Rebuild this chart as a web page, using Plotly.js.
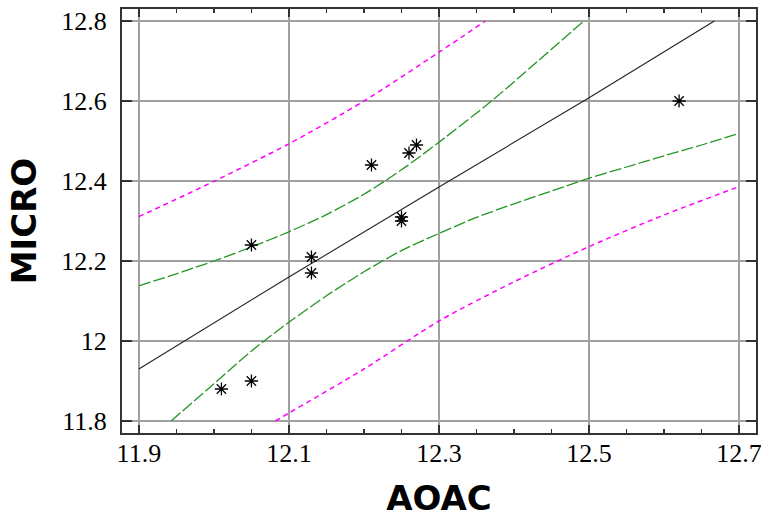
<!DOCTYPE html>
<html>
<head>
<meta charset="utf-8">
<script src="https://cdn.plot.ly/plotly-3.0.1.min.js"></script>
<style>
html,body{margin:0;padding:0;background:#fff;}
#chart{width:761px;height:518px;}
</style>
</head>
<body>
<div id="chart"></div>
<script>
// Observed points
const aoac  = [12.01, 12.05, 12.05, 12.13, 12.13, 12.21, 12.25, 12.25, 12.26, 12.27, 12.62];
const micro = [11.88, 11.90, 12.24, 12.21, 12.17, 12.44, 12.31, 12.30, 12.47, 12.49, 12.60];

// Fitted line
const fitX = [11.9, 12.1, 12.3, 12.5, 12.667];
const fitY = [11.93, 12.16, 12.385, 12.608, 12.8];

// Confidence limits (green)
const confUpX = [11.9, 11.95, 12.0, 12.05, 12.1, 12.15, 12.2, 12.25, 12.3, 12.37, 12.43, 12.493];
const confUpY = [12.138, 12.168, 12.20, 12.235, 12.273, 12.316, 12.367, 12.428, 12.497, 12.60, 12.697, 12.80];
const confLoX = [11.943, 12.0, 12.05, 12.1, 12.15, 12.2, 12.25, 12.3, 12.35, 12.4, 12.45, 12.5, 12.55, 12.6, 12.65, 12.7];
const confLoY = [11.80, 11.893, 11.975, 12.047, 12.113, 12.173, 12.226, 12.269, 12.309, 12.343, 12.375, 12.407, 12.435, 12.463, 12.49, 12.519];

// Prediction limits (magenta)
const predUpX = [11.9, 12.0, 12.1, 12.2, 12.3, 12.362];
const predUpY = [12.311, 12.399, 12.493, 12.60, 12.722, 12.80];
const predLoX = [12.082, 12.1, 12.2, 12.3, 12.4, 12.5, 12.6, 12.7];
const predLoY = [11.80, 11.82, 11.93, 12.05, 12.148, 12.236, 12.315, 12.386];

// Axis ticks
const xTicks = [11.9, 12.1, 12.3, 12.5, 12.7];
const xTickText = ['11.9', '12.1', '12.3', '12.5', '12.7'];
const yTicks = [11.8, 12.0, 12.2, 12.4, 12.6, 12.8];
const yTickText = ['11.8', '12', '12.2', '12.4', '12.6', '12.8'];

const green = 'rgb(34,150,34)';
const magenta = '#ff00ff';

const traces = [
  {x: predUpX, y: predUpY, mode: 'lines', line: {color: magenta, width: 1.5, dash: '5px,4px', shape: 'spline', smoothing: 0.8}, showlegend: false, hoverinfo: 'skip'},
  {x: predLoX, y: predLoY, mode: 'lines', line: {color: magenta, width: 1.5, dash: '5px,4px', shape: 'spline', smoothing: 0.8}, showlegend: false, hoverinfo: 'skip'},
  {x: confUpX, y: confUpY, mode: 'lines', line: {color: green, width: 1.3, dash: '12px,3px', shape: 'spline', smoothing: 0.8}, showlegend: false, hoverinfo: 'skip'},
  {x: confLoX, y: confLoY, mode: 'lines', line: {color: green, width: 1.3, dash: '12px,3px', shape: 'spline', smoothing: 0.8}, showlegend: false, hoverinfo: 'skip'},
  {x: fitX, y: fitY, mode: 'lines', line: {color: '#222', width: 1.1}, showlegend: false},
  {x: aoac, y: micro, mode: 'markers', marker: {symbol: 'asterisk-open', size: 11, color: '#000', line: {color: '#000', width: 1.3}}, showlegend: false}
];

const tickFont = {family: '"Liberation Serif", "Times New Roman", serif', size: 26, color: '#000'};
const titleFont = {family: '"DejaVu Sans", Arial, sans-serif', size: 34, color: '#000', weight: 'bold'};

const layout = {
  width: 761, height: 518,
  margin: {l: 122, r: 5, t: 9, b: 85},
  paper_bgcolor: '#fff', plot_bgcolor: '#fff',
  xaxis: {
    range: [11.8775, 12.7225],
    tickvals: xTicks, ticktext: xTickText,
    ticks: 'inside', ticklen: 8, tickwidth: 1.5, tickcolor: '#333',
    showline: true, linecolor: '#333', linewidth: 2, mirror: 'allticks',
    showgrid: true, gridcolor: '#a0a0a0', gridwidth: 1.5,
    zeroline: false,
    minor: {dtick: 0.05, tick0: 11.9, ticks: 'inside', ticklen: 4, tickwidth: 1.2, tickcolor: '#333', showgrid: false},
    tickfont: tickFont, ticklabelstandoff: -4, ticklabeloverflow: 'allow',
    title: {text: 'AOAC', font: titleFont, standoff: 26}
  },
  yaxis: {
    range: [11.77, 12.83],
    tickvals: yTicks, ticktext: yTickText,
    ticks: 'inside', ticklen: 10, tickwidth: 1.5, tickcolor: '#333',
    showline: true, linecolor: '#333', linewidth: 2, mirror: 'allticks',
    showgrid: true, gridcolor: '#a0a0a0', gridwidth: 1.5,
    zeroline: false,
    tickfont: tickFont, ticklabelstandoff: 8,
    title: {text: 'MICRO', font: titleFont, standoff: 14}
  }
};

Plotly.newPlot('chart', traces, layout, {staticPlot: true, displayModeBar: false});
</script>
</body>
</html>
